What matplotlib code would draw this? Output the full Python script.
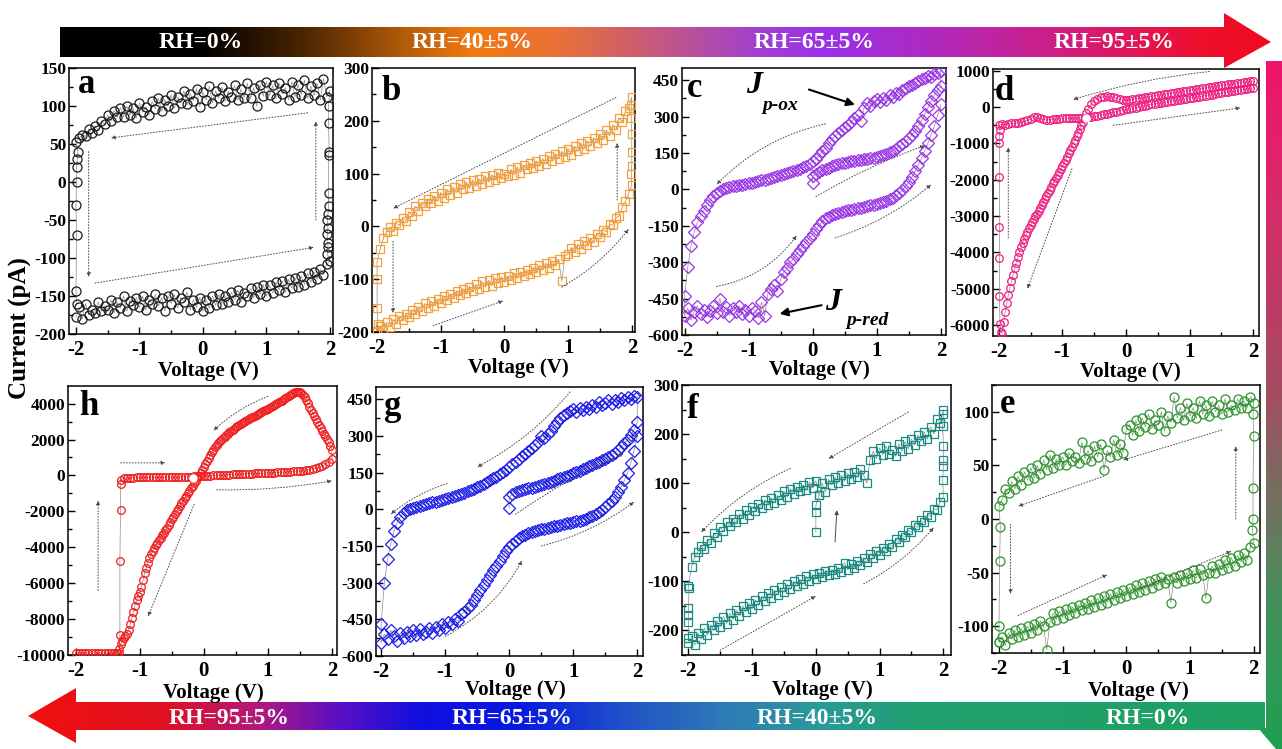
import numpy as np
import matplotlib
matplotlib.use('Agg')
import matplotlib.pyplot as plt
from matplotlib.colors import LinearSegmentedColormap
from matplotlib.patches import Polygon
from matplotlib.ticker import MultipleLocator

plt.rcParams['font.family'] = ['Liberation Serif', 'DejaVu Serif']
plt.rcParams['font.weight'] = 'bold'
plt.rcParams['axes.unicode_minus'] = False

W, H = 1282, 749

# ---- sweep voltages ----
V81 = np.round(np.linspace(-2, 2, 81), 3)
V41 = np.round(np.linspace(0, 2, 41), 3)

# ---- a : RH 0% (black circles) ----
a_upper = [52, 58, 62, 60, 70, 64, 74, 68, 80, 76,
           88, 80, 94, 85, 98, 86, 100, 88, 97, 84,
           104, 92, 99, 88, 106, 96, 110, 93, 108, 100,
           115, 97, 112, 104, 120, 102, 116, 107, 123, 99,
           118, 108, 126, 104, 120, 110, 125, 106, 119, 112,
           127, 108, 122, 111, 130, 110, 124, 100, 128, 113,
           132, 114, 127, 110, 130, 116, 124, 108, 132, 112,
           128, 115, 134, 110, 126, 114, 130, 108, 136, 112,
           120]
a_lower = [-178, -165, -180, -160, -175, -168, -172, -158, -170, -163,
           -168, -155, -172, -158, -166, -150, -170, -156, -162, -152,
           -165, -150, -168, -155, -160, -148, -163, -152, -170, -150,
           -160, -148, -166, -152, -158, -145, -168, -155, -165, -152,
           -170, -155, -166, -150, -162, -148, -160, -150, -158, -145,
           -155, -142, -158, -146, -150, -140, -152, -138, -148, -135,
           -150, -136, -146, -132, -142, -130, -145, -128, -140, -126,
           -138, -124, -135, -120, -132, -118, -128, -115, -122, -108,
           -104]
a_up_v = [1.96, 1.97, 1.97, 1.96, 1.97, 1.96, 1.97, 1.98, 1.98, 1.98, 1.99, 1.98, 1.98]
a_up_i = [-95, -85, -80, -68, -60, -50, -42, -32, -14, 35, 40, 78, 100]
a_dn_v = [-1.97, -1.98, -1.99, -1.99, -2.0, -1.99, -2.0, -1.99]
a_dn_i = [40, 30, 20, 0, -30, -70, -143, -160]

# ---- b : RH 40% (orange squares) ----
b_upper = [-68, -42, -22, -10, -2, -8, 6, 2, 16, 10,
           28, 20, 38, 30, 45, 38, 52, 44, 58, 48,
           64, 54, 70, 60, 74, 64, 80, 70, 84, 72,
           88, 76, 90, 80, 95, 84, 98, 88, 102, 92,
           100, 95, 108, 98, 112, 102, 116, 108, 120, 110,
           124, 114, 128, 118, 133, 124, 138, 128, 142, 132,
           147, 136, 152, 142, 158, 146, 162, 152, 168, 158,
           175, 164, 182, 172, 192, 182, 205, 198, 218, 225,
           245]
b_lower = [-198, -188, -196, -182, -190, -176, -184, -170, -178, -165,
           -172, -158, -166, -152, -160, -146, -155, -142, -150, -138,
           -145, -132, -140, -128, -135, -122, -130, -118, -126, -114,
           -122, -110, -118, -104, -115, -102, -112, -98, -108, -96,
           -106, -94, -102, -88, -98, -86, -94, -82, -90, -78,
           -86, -74, -82, -70, -78, -66, -74, -62, -104, -56,
           -52, -40, -48, -34, -42, -28, -36, -22, -30, -14,
           -20, -6, -10, 4, 2, 16, 20, 36, 48, 62,
           78]
b_up_v = [1.99, 2.0, 2.0, 2.0, 1.99, 1.99]
b_up_i = [100, 115, 140, 175, 205, 230]
b_dn_v = [-2.0, -2.0, -1.99]
b_dn_i = [-100, -155, -185]

# ---- c : RH 65% (purple diamonds) ----
c_mid = [55, 62, 70, 78, 85, 90, 95, 99, 103, 107,
         110, 113, 116, 118, 120, 122, 124, 126, 128, 130,
         133, 137, 142, 147, 153, 160, 168, 177, 187, 198,
         210, 225, 242, 262, 285, 310, 338, 365, 390, 410,
         425]
c_top = [-440, -320, -235, -175, -135, -108, -88, -65, -45, -28,
         -15, -5, 2, 6, 10, 12, 15, 17, 20, 22,
         25, 28, 31, 34, 37, 40, 43, 47, 51, 55,
         58, 62, 66, 70, 74, 79, 85, 91, 98, 106,
         115, 127, 140, 156, 172, 190, 206, 220, 232, 244,
         255, 266, 278, 292, 306, 280, 335, 355, 345, 362,
         372, 360, 378, 370, 388, 380, 398, 392, 410, 418,
         425, 432, 440, 446, 455, 460, 466, 462, 474, 480,
         488]
c_low = [-520, -490, -540, -505, -480, -515, -495, -525, -500, -480,
         -510, -450, -505, -485, -520, -490, -505, -480, -515, -495,
         -520, -490, -500, -530, -465, -520, -430, -410, -395, -420,
         -370, -340, -325, -300, -285, -265, -250, -232, -215, -200,
         -185, -165, -148, -132, -120, -112, -106, -101, -97, -93,
         -90, -87, -84, -81, -78, -75, -72, -69, -66, -63,
         -60, -56, -52, -47, -41, -34, -25, -15, -3, 12,
         30, 52, 76, 102, 130, 160, 192, 226, 262, 305,
         350]

# ---- d : RH 95% (pink circles) ----
d_fwd = [-500, -470, -480, -460, -450, -440, -430, -410, -390, -360,
         -320, -270, -260, -310, -340, -350, -345, -335, -325, -315,
         -305, -300, -300, -300, -300, -300, -300, -295, -285, -270,
         -255, -240, -220, -200, -180, -160, -140, -120, -100, -80,
         -60, -42, -27, -10, 8, 24, 42, 60, 75, 93,
         110, 125, 137, 152, 167, 180, 195, 207, 223, 236,
         250, 265, 277, 292, 305, 320, 333, 348, 361, 377,
         390, 405, 418, 432, 447, 460, 474, 489, 502, 516,
         530]
d_ret_v = np.round(np.linspace(2, -0.6, 53), 3)
d_ret = [720, 710, 700, 690, 675, 665, 650, 640, 625, 612,
         600, 585, 572, 560, 545, 532, 520, 505, 492, 480,
         466, 452, 440, 425, 412, 398, 385, 370, 356, 342,
         328, 314, 300, 286, 272, 258, 245, 232, 220, 205,
         185, 195, 215, 245, 270, 288, 295, 290, 270, 230,
         165, 80, -50]
d_steep_v = np.round(np.linspace(-0.625, -1.95, 54), 3)
d_steep = [-170, -300, -400, -500, -600, -700, -800, -900, -1000, -1090,
           -1180, -1270, -1360, -1450, -1540, -1620, -1700, -1780, -1860, -1940,
           -2020, -2100, -2185, -2270, -2355, -2440, -2525, -2610, -2690, -2770,
           -2850, -2930, -3010, -3090, -3170, -3250, -3340, -3430, -3530, -3630,
           -3740, -3860, -3990, -4130, -4280, -4440, -4610, -4790, -4980, -5180,
           -5400, -5650, -5920, -6250]
d_jump_v = [-1.96, -1.98, -1.99, -1.99, -1.99, -1.99, -1.99, -1.99, -1.98]
d_jump_i = [-6200, -5980, -5200, -4150, -3300, -1920, -1000, -800, -620]

# ---- h : RH 95% (red circles) ----
h_flat_v = np.round(np.linspace(-2, -1.35, 14), 3)
h_flat = [-9870, -9890, -9880, -9875, -9885, -9880, -9870,
          -9890, -9880, -9875, -9885, -9880, -9890, -9900]
h_rise_v = np.round(np.linspace(-1.35, 2.0, 135), 3)
h_rise = [-9900, -9650, -9400, -9200, -9050, -8950, -8850, -8600, -8300, -7950,
          -7600, -7250, -6950, -6700, -6500, -6200, -5850, -5450, -5150, -4850,
          -4620, -4400, -4200, -4030, -3880, -3750, -3610, -3470, -3330, -3190,
          -3040, -2900, -2750, -2600, -2450, -2300, -2150, -2000, -1850, -1700,
          -1560, -1420, -1280, -1140, -1000, -860, -720, -580, -440, -300,
          -160, -20, 140, 300, 460, 620, 790, 960, 1120, 1280,
          1430, 1570, 1700, 1810, 1910, 2000, 2080, 2160, 2240, 2320,
          2400, 2470, 2540, 2610, 2680, 2740, 2800, 2860, 2920, 2975,
          3030, 3080, 3130, 3180, 3230, 3280, 3330, 3380, 3430, 3480,
          3530, 3575, 3620, 3670, 3720, 3770, 3820, 3870, 3920, 3970,
          4020, 4070, 4120, 4170, 4230, 4290, 4350, 4410, 4470, 4530,
          4580, 4620, 4650, 4660, 4640, 4580, 4480, 4340, 4180, 4010,
          3830, 3650, 3470, 3300, 3130, 2960, 2800, 2640, 2480, 2330,
          2180, 2030, 1860, 1650, 1400]
h_low_v = np.round(np.linspace(-1.3, 2.0, 67), 3)
h_low = [-250, -160, -130, -120, -120, -115, -115, -115, -110, -110,
         -110, -110, -105, -105, -100, -100, -95, -90, -85, -80,
         -75, -70, -65, -55, -45, -35, -25, -15, -5, 5,
         15, 25, 35, 42, 50, 58, 65, 72, 80, 87,
         95, 102, 110, 118, 125, 133, 140, 148, 156, 165,
         174, 184, 195, 207, 220, 235, 252, 272, 296, 325,
         360, 405, 460, 530, 620, 740, 900]
h_jump_v = [-1.3, -1.3, -1.31, -1.31, -1.32]
h_jump_i = [-500, -1900, -4780, -8880, -9900]

# ---- g : RH 65% (blue diamonds) ----
g_mid = [50, 62, 70, 76, 80, 83, 86, 89, 92, 96,
         100, 104, 108, 112, 117, 122, 127, 132, 137, 142,
         147, 152, 158, 164, 170, 176, 182, 188, 194, 200,
         207, 214, 222, 232, 243, 256, 270, 285, 302, 325,
         355]
g_top = [-470, -300, -205, -140, -90, -55, -30, -14, -4, 2,
         7, 11, 15, 19, 22, 25, 28, 31, 35, 39,
         43, 47, 51, 55, 60, 64, 68, 73, 78, 84,
         90, 96, 103, 110, 118, 126, 134, 143, 152, 162,
         172, 184, 195, 206, 216, 228, 238, 252, 262, 275,
         300, 292, 308, 322, 340, 355, 372, 385, 395, 402,
         410, 398, 416, 405, 420, 412, 425, 418, 440, 428,
         436, 445, 430, 448, 440, 455, 446, 458, 450, 462,
         460]
g_low = [-545, -510, -530, -495, -520, -540, -505, -525, -500, -520,
         -495, -515, -490, -510, -500, -485, -505, -480, -495, -470,
         -485, -460, -470, -450, -455, -430, -420, -405, -390, -370,
         -350, -330, -310, -290, -270, -250, -230, -210, -190, -172,
         -155, -140, -128, -118, -110, -104, -99, -94, -90, -86,
         -82, -79, -76, -73, -70, -67, -64, -61, -58, -55,
         -52, -49, -46, -42, -38, -33, -27, -20, -12, -3,
         8, 20, 34, 50, 70, 92, 118, 150, 190, 240,
         300]

# ---- f : RH 40% (teal squares) ----
f_upper = [-110, -70, -50, -40, -28, -35, -15, -22, -2, -10,
           10, 2, 20, 12, 28, 20, 38, 28, 45, 36,
           52, 44, 58, 50, 66, 56, 70, 60, 75, 66,
           84, 72, 88, 78, 92, 84, 96, 86, 102, 90,
           105, 75, 100, 82, 108, 96, 112, 100, 116, 104,
           120, 108, 122, 112, 128, 116, 100, 148, 165, 150,
           172, 158, 176, 160, 168, 155, 180, 165, 185, 170,
           190, 178, 198, 185, 205, 190, 215, 200, 230, 222,
           250]
f_lower = [-225, -212, -230, -205, -218, -195, -210, -188, -200, -180,
           -192, -172, -186, -165, -178, -158, -170, -150, -162, -145,
           -156, -138, -148, -130, -140, -124, -134, -118, -128, -112,
           -122, -106, -116, -100, -110, -96, -106, -90, -100, -86,
           -96, -82, -92, -78, -88, -76, -84, -72, -80, -62,
           -76, -64, -72, -58, -66, -52, -60, -44, -52, -38,
           -46, -32, -38, -24, -30, -14, -20, -6, -10, 4,
           0, 14, 10, 24, 20, 36, 32, 48, 46, 62,
           72]
f_up_v = [1.99, 2.0, 2.0, 2.0, 1.99, 2.0]
f_up_i = [107, 134, 148, 176, 217, 240]
f_dn_v = [-1.99, -2.0, -2.0, -2.0, -2.0]
f_dn_i = [-114, -155, -169, -183, -215]
f_start_v = [0.0, 0.0, 0.0, 0.05]
f_start_i = [0, 42, 55, 75]

# ---- e : RH 0% (green circles) ----
e_upper = [12, 18, 28, 24, 35, 28, 40, 32, 44, 36,
           48, 38, 50, 42, 55, 46, 60, 48, 56, 50,
           58, 50, 62, 54, 58, 52, 72, 56, 64, 54,
           68, 58, 70, 46, 64, 58, 74, 60, 70, 62,
           84, 88, 78, 92, 82, 94, 86, 98, 84, 92,
           88, 100, 82, 96, 90, 114, 94, 104, 92, 108,
           96, 104, 94, 110, 98, 106, 96, 110, 100, 106,
           98, 112, 100, 106, 102, 112, 104, 110, 104, 114,
           108]
e_lower = [-115, -110, -118, -106, -112, -104, -110, -102, -108, -100,
           -106, -98, -104, -95, -100, -122, -96, -88, -94, -86,
           -92, -84, -90, -82, -88, -80, -85, -78, -84, -76,
           -82, -74, -80, -72, -78, -70, -76, -68, -74, -66,
           -72, -64, -70, -62, -68, -60, -66, -58, -64, -56,
           -62, -54, -60, -56, -78, -54, -60, -52, -58, -50,
           -56, -48, -55, -47, -52, -74, -50, -44, -50, -42,
           -48, -38, -46, -36, -44, -34, -40, -32, -38, -26,
           -22]
e_up_v = [1.98, 1.99, 1.99, 2.0, 1.99]
e_up_i = [-10, 0, 29, 77, 98]
e_dn_v = [-1.98, -1.99, -2.0, -2.0]
e_dn_i = [-7, -39, -100, -115]

fig = plt.figure(figsize=(W / 100, H / 100), dpi=100)


def frac(x, y):
    return x / W, 1 - y / H


def rect(l, t, r, b):
    return [l / W, 1 - b / H, (r - l) / W, (b - t) / H]


# ---- gradient arrows in the background ----
bg = fig.add_axes([0, 0, 1, 1], zorder=-1)
bg.set_xlim(0, W)
bg.set_ylim(H, 0)
bg.axis('off')


def gradient_shape(pts, x0, x1, y0, y1, stops, vertical=False):
    pos = [(s[0] - stops[0][0]) / (stops[-1][0] - stops[0][0]) for s in stops]
    cm = LinearSegmentedColormap.from_list('g', list(zip(pos, [s[1] for s in stops])))
    grad = np.linspace(0, 1, 600)
    img = grad[:, None] if vertical else grad[None, :]
    poly = Polygon(pts, closed=True, facecolor='none', edgecolor='none')
    bg.add_patch(poly)
    im = bg.imshow(img, cmap=cm, extent=[x0, x1, y1, y0],
                   origin='upper' if vertical else 'lower', aspect='auto', interpolation='bilinear')
    im.set_clip_path(poly)


top_stops = [(60, '#000000'), (200, '#000000'), (300, '#4a2400'), (400, '#b05a0a'),
             (470, '#f07a10'), (560, '#e8703a'), (650, '#c85a7a'), (760, '#a040d0'),
             (830, '#9a30e8'), (950, '#b428b8'), (1080, '#d41c78'), (1200, '#ee1030'),
             (1271, '#f00a1e')]
gradient_shape([(60, 27), (1224, 27), (1224, 13), (1271, 42), (1224, 68), (1224, 57), (60, 57)],
               60, 1271, 13, 68, top_stops)

bot_stops = [(28, '#f01010'), (160, '#e01020'), (260, '#b01880'), (330, '#6010c0'),
             (420, '#1010e0'), (520, '#0818e0'), (620, '#2050c8'), (720, '#2e78b8'),
             (820, '#2a9a9a'), (920, '#20a070'), (1265, '#1ea060')]
gradient_shape([(1265, 702), (76, 702), (76, 688), (28, 716), (76, 743), (76, 730), (1265, 730)],
               28, 1265, 688, 743, bot_stops)

side_stops = [(61, '#f0146e'), (200, '#d82a6a'), (380, '#a84a62'), (500, '#747060'),
              (600, '#44905c'), (749, '#1ea050')]
gradient_shape([(1266, 61), (1282, 61), (1282, 749), (1276, 749), (1258, 728), (1266, 728)],
               1256, 1282, 61, 749, side_stops, vertical=True)

for x, y, s in [(201, 48, 'RH=0%'), (472, 48, 'RH=40±5%'), (814, 48, 'RH=65±5%'),
                (1114, 48, 'RH=95±5%'), (229, 724, 'RH=95±5%'), (512, 724, 'RH=65±5%'),
                (817, 724, 'RH=40±5%'), (1148, 724, 'RH=0%')]:
    bg.text(x, y, s, color='white', fontsize=17, fontweight='bold', ha='center', va='baseline')


# ---- panels ----
def make_panel(box, xlim, ylim, ymaj, ymin, letter, letter_xy, label_xy):
    ax = fig.add_axes(rect(*box), zorder=1)
    ax.set_xlim(*xlim)
    ax.set_ylim(*ylim)
    ax.xaxis.set_major_locator(MultipleLocator(1))
    ax.xaxis.set_minor_locator(MultipleLocator(0.5))
    ax.yaxis.set_major_locator(MultipleLocator(ymaj))
    ax.yaxis.set_minor_locator(MultipleLocator(ymin))
    ax.tick_params(which='both', direction='in', top=False, right=False, width=1)
    ax.tick_params(which='major', length=5)
    ax.tick_params(which='minor', length=3)
    ax.tick_params(axis='x', labelsize=15, pad=4)
    ax.tick_params(axis='y', labelsize=12.5, pad=2)
    for s in ax.spines.values():
        s.set_linewidth(1.1)
    fig.text(*frac(*letter_xy), letter, fontsize=25, fontweight='bold', ha='left', va='baseline')
    fig.text(*frac(*label_xy), 'Voltage (V)', fontsize=15, fontweight='bold', ha='center', va='center')
    return ax


def trace(ax, v, i, color, marker, ms):
    ax.plot(v, i, '-', color='#8c8c8c', lw=0.5, zorder=2)
    ax.plot(v, i, ls='none', marker=marker, ms=ms, mfc='none', mec=color, mew=0.9, zorder=3)


def sweep(ax, arrows, color='#4a4a4a', ls=(0, (1, 2))):
    for x0, y0, x1, y1, rad in arrows:
        ax.annotate('', xy=(x1, y1), xytext=(x0, y0),
                    arrowprops=dict(arrowstyle='-|>', lw=0.7, ls=ls, color=color,
                                    mutation_scale=6, shrinkA=0, shrinkB=0,
                                    connectionstyle='arc3,rad=%g' % rad), zorder=4)


cat = np.concatenate

# a
ax = make_panel((69, 68, 333, 334), (-2.11, 2.05), (-200, 150), 50, 25, 'a', (78, 93), (208, 371))
trace(ax, cat([V81, a_up_v, V81[::-1], a_dn_v]),
      cat([a_lower, a_up_i, a_upper[::-1], a_dn_i]), '#1a1a1a', 'o', 6.5)
sweep(ax, [(1.65, 91, -1.45, 58, 0), (-1.8, 40, -1.8, -125, 0),
           (-1.7, -133, 1.75, -86, 0), (1.78, -50, 1.78, 80, 0)])

# b
ax = make_panel((372, 68, 635, 332), (-2.08, 2.05), (-200, 300), 100, 50, 'b', (382, 100), (518, 368))
trace(ax, cat([V81, b_up_v, V81[::-1], b_dn_v]),
      cat([b_lower, b_up_i, b_upper[::-1], b_dn_i]), '#f5a03c', 's', 6)
sweep(ax, [(1.75, 244, -1.75, 34, 0), (-1.75, -28, -1.75, -164, 0),
           (-1.12, -188, -0.02, -141, 0), (0.9, -115, 1.95, -5, 0.1), (1.77, 50, 1.77, 158, 0)])

# c
ax = make_panel((682, 68, 946, 335), (-2.04, 2.08), (-600, 500), 150, 75, 'c', (687, 97), (819, 370))
trace(ax, cat([[0.0], V41, V81[::-1], V81]), cat([[25], c_mid, c_top[::-1], c_low]),
      '#9a35e6', 'D', 6)
sweep(ax, [(0.2, 270, -1.5, 20, 0.15), (0.05, -30, 1.75, 180, -0.05),
           (0.35, -200, 1.85, 20, 0.1), (-1.5, -400, -0.25, -190, 0.2)])
ax.text(-0.92, 429, 'J', fontsize=23, fontweight='bold', style='italic', ha='center', va='center')
ax.text(-0.5, 345, 'p-ox', fontsize=14, fontweight='bold', style='italic', ha='center', va='center')
ax.annotate('', xy=(0.7, 345), xytext=(-0.1, 415),
            arrowprops=dict(arrowstyle='-|>', lw=1.5, color='black', mutation_scale=12))
ax.text(0.32, -467, 'J', fontsize=23, fontweight='bold', style='italic', ha='center', va='center')
ax.text(0.85, -540, 'p-red', fontsize=14, fontweight='bold', style='italic', ha='center', va='center')
ax.annotate('', xy=(-0.56, -515), xytext=(0.18, -475),
            arrowprops=dict(arrowstyle='-|>', lw=1.5, color='black', mutation_scale=12))

# d
ax = make_panel((993, 69, 1259, 336), (-2.09, 2.09), (-6300, 1050), 1000, 500, 'd', (995, 100), (1130, 372))
trace(ax, cat([d_jump_v, V81, d_ret_v, d_steep_v]), cat([d_jump_i, d_fwd, d_ret, d_steep]),
      '#f01e82', 'o', 5.5)
ax.plot([-0.63], [-300], 'o', ms=5, mfc='white', mec='white', zorder=5)
sweep(ax, [(1.31, 980, -0.83, 210, 0.05), (-0.2, -500, 1.8, -20, 0),
           (-1.85, -3600, -1.85, -1100, 0), (-0.85, -1700, -1.55, -5000, 0)])

# h
ax = make_panel((68, 386, 337, 655), (-2.12, 2.08), (-10000, 4980), 2000, 1000, 'h', (79, 415), (213, 693))
trace(ax, cat([h_flat_v, h_rise_v, h_low_v[::-1], h_jump_v]),
      cat([h_flat, h_rise, h_low[::-1], h_jump_i]), '#f01e1e', 'o', 5.5)
ax.plot([-0.17], [-150], 'o', ms=5, mfc='white', mec='white', zorder=5)
sweep(ax, [(1.0, 4400, 0.15, 2500, 0.1), (-1.3, 700, -0.6, 700, 0), (0.2, -800, 2.0, -300, 0.05),
           (-1.65, -6400, -1.65, -1400, 0), (-0.15, -1600, -0.87, -7850, 0)])

# g
ax = make_panel((376, 387, 643, 656), (-2.08, 2.09), (-600, 500), 150, 75, 'g', (383, 415), (515, 690))
trace(ax, cat([[0.0], V41, V81[::-1], V81]), cat([[5], g_mid, g_top[::-1], g_low]),
      '#1e1ee6', 'D', 6)
sweep(ax, [(0.95, 480, -0.5, 173, -0.1), (-0.97, 105, -1.85, -20, 0.1), (0.1, -20, 1.79, 228, -0.05),
           (0.5, -150, 1.95, 30, 0.1), (-1.0, -520, 0.2, -210, 0.15)])

# f
ax = make_panel((682, 385, 951, 655), (-2.1, 2.12), (-250, 300), 100, 50, 'f', (687, 418), (822, 690))
trace(ax, cat([V81, f_up_v, V81[::-1], f_dn_v]),
      cat([f_lower, f_up_i, f_upper[::-1], f_dn_i]), '#1a8c82', 's', 6)
trace(ax, f_start_v, f_start_i, '#1a8c82', 's', 6)
sweep(ax, [(1.45, 245, 0.2, 150, 0), (-0.4, 130, -1.8, 0, 0.1),
           (-1.5, -240, 0.0, -130, 0), (0.75, -105, 1.85, 10, 0.1)])
sweep(ax, [(0.3, -20, 0.33, 45, 0)], ls='-')

# e
ax = make_panel((992, 385, 1260, 653), (-2.11, 2.1), (-125, 125), 50, 25, 'e', (1000, 413), (1138, 691))
trace(ax, cat([V81, e_up_v, V81[::-1], e_dn_v]),
      cat([e_lower, e_up_i, e_upper[::-1], e_dn_i]), '#2a962a', 'o', 6.5)
sweep(ax, [(1.5, 83, -0.05, 55, 0), (-0.35, 40, -1.7, 12, 0), (-1.82, -5, -1.82, -70, 0),
           (-1.7, -90, -0.3, -52, 0), (0.2, -65, 1.65, -30, 0), (1.72, 0, 1.72, 68, 0)])

fig.text(*frac(20, 328), 'Current (pA)', fontsize=18, fontweight='bold', rotation=90,
         ha='center', va='center')

fig.savefig('out.png', dpi=100)
